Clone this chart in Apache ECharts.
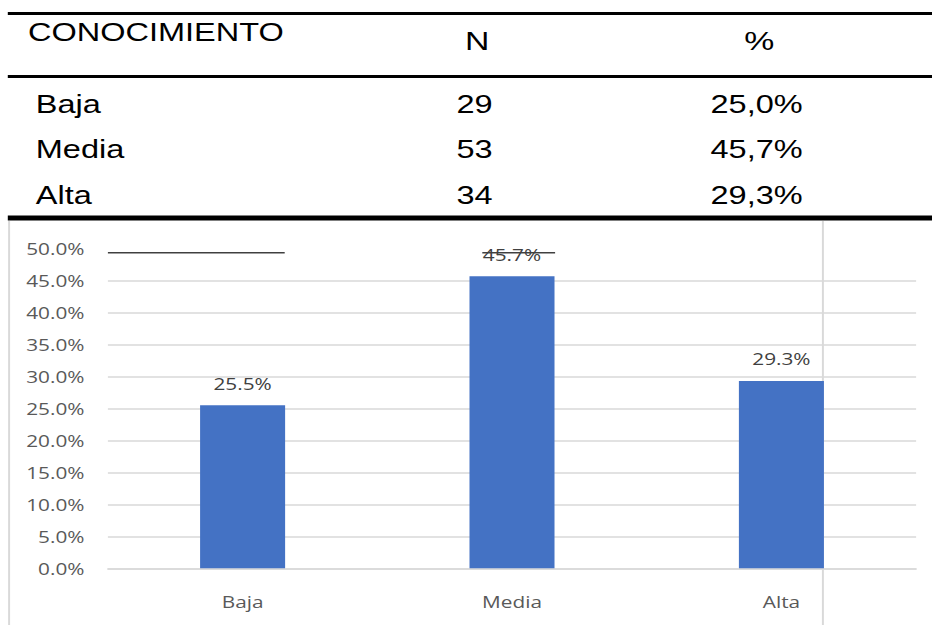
<!DOCTYPE html>
<html>
<head>
<meta charset="utf-8">
<script src="https://cdn.jsdelivr.net/npm/echarts@6/dist/echarts.min.js"></script>
<style>
  html, body { margin: 0; padding: 0; background: #fff; overflow: hidden; }
  #wrap { width: 932px; height: 625px; overflow: hidden; }
  /* the whole figure is drawn in a narrower box and widened horizontally */
  #chart { width: 717px; height: 625px; transform: scaleX(1.3); transform-origin: 0 0; }
</style>
</head>
<body>
<div id="wrap"><div id="chart"></div></div>
<script>
// Summary table
const tableHeader = ['CONOCIMIENTO', 'N', '%'];
const levels = ['Baja', 'Media', 'Alta'];
const counts = [29, 53, 34];
const shares = ['25,0%', '45,7%', '29,3%'];

// Bar chart
const categories = ['Baja', 'Media', 'Alta'];
const percentValues = [25.5, 45.7, 29.3];
const yMin = 0, yMax = 50, yStep = 5;

const W = 717;
const tableFont = 'Liberation Sans, Arial, sans-serif';
const chartFont = 'Open Sans, Noto Sans, sans-serif';

function txt(text, x, y, align, size) {
  return {
    type: 'text', x: x, y: y, silent: true,
    style: {
      text: text, fill: '#000', fontSize: size, fontFamily: tableFont,
      align: align, verticalAlign: 'middle',
      textAlign: align, textVerticalAlign: 'middle'
    }
  };
}
function rule(x1, y1, x2, y2, color, width) {
  return {
    type: 'line', silent: true,
    shape: { x1: x1, y1: y1, x2: x2, y2: y2 },
    style: { stroke: color, lineWidth: width }
  };
}

const graphics = [];
// table rules
graphics.push(rule(6, 13.5, W, 13.5, '#000', 3));
graphics.push(rule(6, 76.5, W, 76.5, '#000', 3));
graphics.push(rule(6, 218, W, 218, '#000', 5));
// header
graphics.push(txt(tableHeader[0], 21.5, 32, 'left', 25));
graphics.push(txt(tableHeader[1], 367, 41, 'center', 26));
graphics.push(txt(tableHeader[2], 584, 41, 'center', 26));
// body rows
const rowY = [104, 149, 195];
levels.forEach(function (lv, i) {
  graphics.push(txt(lv, 27.5, rowY[i], 'left', 25));
  graphics.push(txt(String(counts[i]), 365, rowY[i], 'center', 25));
  graphics.push(txt(shares[i], 582, rowY[i], 'center', 25));
});
// chart frame edges
graphics.push(rule(7, 221, 7, 625, '#d9d9d9', 1.5));
graphics.push(rule(633, 221, 633, 625, '#d9d9d9', 1.5));
// dark strokes near the top of the plot
graphics.push(rule(83, 252.7, 219, 252.7, '#404040', 1.5));
graphics.push(rule(371, 252.7, 427, 252.7, '#404040', 1.5));

const chart = echarts.init(document.getElementById('chart'), null, { renderer: 'svg' });
chart.setOption({
  animation: false,
  backgroundColor: '#fff',
  grid: { left: 83, right: 12.3, top: 248.7, bottom: 56.7, containLabel: false },
  xAxis: {
    type: 'category',
    data: categories,
    axisLine: { show: true, lineStyle: { color: '#d9d9d9', width: 1.5 } },
    axisTick: { show: false },
    axisLabel: { color: '#595959', fontSize: 16, fontFamily: chartFont, margin: 25 },
    splitLine: { show: false }
  },
  yAxis: {
    type: 'value',
    min: yMin, max: yMax, interval: yStep,
    axisLine: { show: false },
    axisTick: { show: false },
    axisLabel: {
      color: '#595959', fontSize: 16, fontFamily: chartFont, margin: 18,
      formatter: function (v) { return v.toFixed(1) + '%'; }
    },
    splitLine: { show: true, showMaxLine: false, lineStyle: { color: '#d9d9d9', width: 1.5 } }
  },
  series: [{
    type: 'bar',
    data: percentValues,
    barWidth: 65.4,
    itemStyle: { color: '#4472C4' },
    label: {
      show: true, position: 'top', distance: 14,
      color: '#404040', fontSize: 16, fontFamily: chartFont,
      formatter: function (p) { return p.value.toFixed(1) + '%'; }
    }
  }],
  graphic: { elements: graphics }
});
</script>
</body>
</html>
